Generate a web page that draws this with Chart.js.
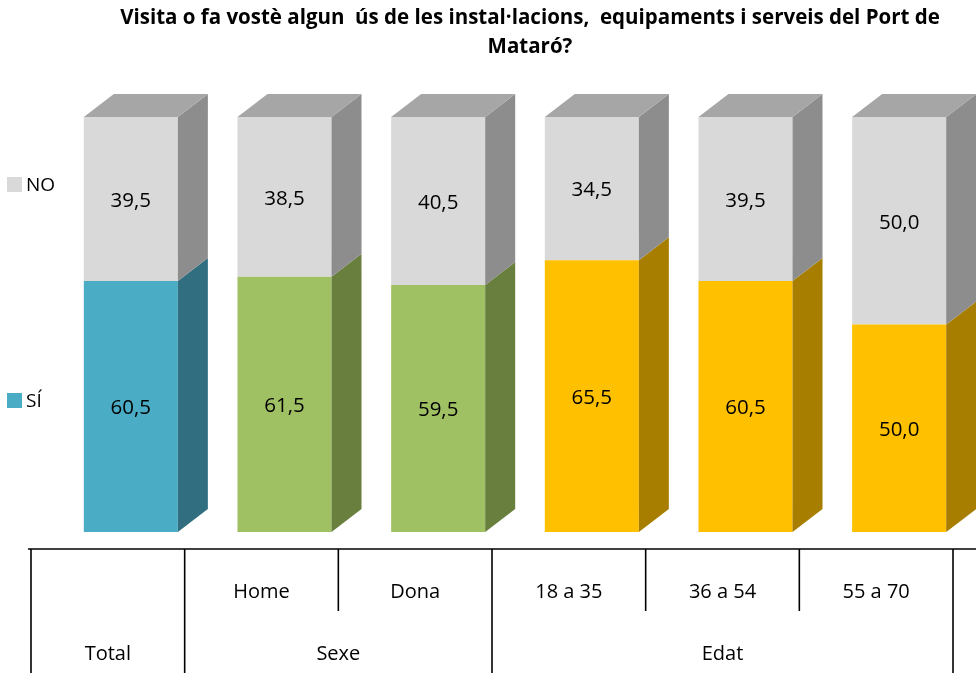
<!DOCTYPE html>
<html>
<head>
<meta charset="utf-8">
<script src="https://cdn.jsdelivr.net/npm/chart.js@4.4.0/dist/chart.umd.min.js"></script>
<style>
  html, body { margin: 0; padding: 0; background: #fff; }
</style>
</head>
<body>
<canvas id="myChart" width="976" height="673"></canvas>
<script>
// data
const categories = ["", "Home", "Dona", "18 a 35", "36 a 54", "55 a 70"];
const groups = ["Total", "Sexe", "Sexe", "Edat", "Edat", "Edat"];
const siValues = [60.5, 61.5, 59.5, 65.5, 60.5, 50.0];
const noValues = [39.5, 38.5, 40.5, 34.5, 39.5, 50.0];
const seriesNames = ["SÍ", "NO"];
const titleLines = [
  "Visita o fa vostè algun  ús de les instal·lacions,  equipaments i serveis del Port de",
  "Mataró?"
];

// colours
const siFront = ["#4BACC6", "#A0C064", "#A0C064", "#FFC000", "#FFC000", "#FFC000"];
const siSide = ["#306E80", "#687F3E", "#687F3E", "#A87E00", "#A87E00", "#A87E00"];
const noFront = "#D9D9D9";
const noSide = "#8D8D8D";
const noTop = "#A6A6A6";

const FONT = "'Open Sans', 'Noto Sans', sans-serif";
const DX = 30, DY = 23;   // depth of the fake 3d
const SHIFT = 23;         // bars sit right of the category cell centre

const fmt = v => v.toFixed(1).replace(".", ",");

const bars3d = {
  id: "bars3d",
  afterDatasetsDraw(chart) {
    const ctx = chart.ctx;
    const siMeta = chart.getDatasetMeta(0).data;
    const noMeta = chart.getDatasetMeta(1).data;
    ctx.save();
    [siMeta, noMeta].forEach((els, d) => {
      els.forEach((el, i) => {
        const r = el.x + el.width / 2;
        const top = Math.min(el.y, el.base), bot = Math.max(el.y, el.base);
        ctx.fillStyle = d === 0 ? siSide[i] : noSide;
        ctx.beginPath();
        ctx.moveTo(r, top);
        ctx.lineTo(r + DX, top - DY);
        ctx.lineTo(r + DX, bot - DY);
        ctx.lineTo(r, bot);
        ctx.closePath();
        ctx.fill();
        if (d === 1) {
          const l = el.x - el.width / 2;
          ctx.fillStyle = noTop;
          ctx.beginPath();
          ctx.moveTo(l, top);
          ctx.lineTo(l + DX, top - DY);
          ctx.lineTo(r + DX, top - DY);
          ctx.lineTo(r, top);
          ctx.closePath();
          ctx.fill();
        }
      });
    });
    // value labels
    ctx.fillStyle = "#000";
    ctx.font = "20.5px " + FONT;
    ctx.textAlign = "center";
    ctx.textBaseline = "middle";
    [[siMeta, siValues], [noMeta, noValues]].forEach(([els, vals]) => {
      els.forEach((el, i) => {
        ctx.fillText(fmt(vals[i]), el.x, (el.y + el.base) / 2 + 2);
      });
    });
    ctx.restore();
  },
  afterDraw(chart) {
    const ctx = chart.ctx;
    const xs = chart.scales.x;
    const area = chart.chartArea;
    ctx.save();

    // title
    ctx.fillStyle = "#000";
    ctx.font = "bold 20.5px " + FONT;
    ctx.textAlign = "center";
    ctx.textBaseline = "middle";
    ctx.fillText(titleLines[0], 530, 18);
    ctx.fillText(titleLines[1], 530, 47);

    // legend
    ctx.font = "19px " + FONT;
    ctx.textAlign = "left";
    const legendY = [401, 185];
    seriesNames.forEach((name, k) => {
      ctx.fillStyle = k === 0 ? siFront[0] : noFront;
      ctx.fillRect(7, legendY[k] - 8, 15, 15);
      ctx.fillStyle = "#000";
      ctx.fillText(name, 26, legendY[k] + 1);
    });

    // category table below the axis
    const n = categories.length;
    const step = xs.getPixelForValue(1) - xs.getPixelForValue(0);
    const edge = i => xs.getPixelForValue(i) - step / 2 - SHIFT;
    const axisY = area.bottom + 17;
    const midY = axisY + 62;
    const bottomY = chart.height;

    ctx.strokeStyle = "#404040";
    ctx.lineWidth = 2;
    ctx.beginPath();
    ctx.moveTo(28, axisY);
    ctx.lineTo(chart.width, axisY);
    ctx.stroke();

    ctx.strokeStyle = "#000";
    ctx.lineWidth = 1.6;
    for (let i = 0; i <= n; i++) {
      const x = edge(i);
      const full = i === 0 || i === n || groups[i] !== groups[i - 1];
      ctx.beginPath();
      ctx.moveTo(x, axisY);
      ctx.lineTo(x, full ? bottomY : midY);
      ctx.stroke();
    }

    ctx.fillStyle = "#000";
    ctx.font = "20px " + FONT;
    ctx.textAlign = "center";
    for (let i = 0; i < n; i++) {
      if (categories[i]) ctx.fillText(categories[i], (edge(i) + edge(i + 1)) / 2, axisY + 43);
    }
    let start = 0;
    for (let i = 1; i <= n; i++) {
      if (i === n || groups[i] !== groups[start]) {
        ctx.fillText(groups[start], (edge(start) + edge(i)) / 2, axisY + 105);
        start = i;
      }
    }
    ctx.restore();
  }
};

const config = {
  type: "bar",
  data: {
    labels: categories,
    datasets: [
      { label: seriesNames[0], data: siValues, backgroundColor: siFront },
      { label: seriesNames[1], data: noValues, backgroundColor: noFront }
    ]
  },
  options: {
    responsive: false,
    animation: false,
    layout: { padding: { left: 54, right: 0, top: 117, bottom: 141 } },
    datasets: { bar: { barPercentage: 0.612, categoryPercentage: 1, borderWidth: 0 } },
    scales: {
      x: { display: false, stacked: true },
      y: { display: false, stacked: true, min: 0, max: 100 }
    },
    plugins: { legend: { display: false }, tooltip: { enabled: false }, title: { display: false } }
  },
  plugins: [bars3d]
};

const myChart = new Chart(document.getElementById("myChart"), config);
</script>
</body>
</html>
